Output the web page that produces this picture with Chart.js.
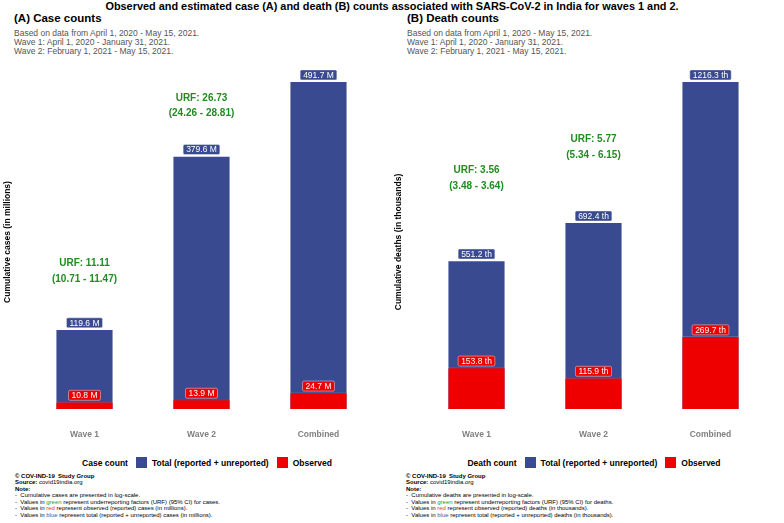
<!DOCTYPE html>
<html>
<head>
<meta charset="utf-8">
<script src="https://cdn.jsdelivr.net/npm/chart.js@4/dist/chart.umd.min.js"></script>
<style>
  body { margin: 0; width: 784px; height: 523px; background: #fff; font-family: "Liberation Sans", Arial, sans-serif; position: relative; overflow: hidden; }
  .abs { position: absolute; white-space: nowrap; }
  .title { left: 0; width: 784px; top: 0px; text-align: center; font-weight: bold; font-size: 10.9px; }
  .ptitle { font-weight: bold; font-size: 11.5px; top: 12px; }
  .sub { font-size: 8.5px; color: #555; line-height: 9.2px; top: 28.5px; }
  .ytitle { font-weight: bold; font-size: 8.5px; transform: rotate(-90deg); transform-origin: center; width: 200px; text-align: center; }
  .legend { top: 457px; width: 392px; display: flex; justify-content: center; align-items: center; font-weight: bold; font-size: 8.5px; }
  .legend .box { width: 11px; height: 11px; display: inline-block; margin: 0 5px 0 8px; }
  .note { font-size: 6px; line-height: 6.6px; top: 472.5px; }
  .note b { font-weight: bold; }
  canvas { position: absolute; top: 0; }
</style>
</head>
<body>
<div class="abs title">Observed and estimated case (A) and death (B) counts associated with SARS-CoV-2 in India for waves 1 and 2.</div>

<div class="abs ptitle" style="left:14px">(A) Case counts</div>
<div class="abs sub" style="left:14px">Based on data from April 1, 2020 - May 15, 2021.<br>Wave 1: April 1, 2020 - January 31, 2021.<br>Wave 2: February 1, 2021 - May 15, 2021.</div>
<div class="abs ptitle" style="left:407px">(B) Death counts</div>
<div class="abs sub" style="left:407px">Based on data from April 1, 2020 - May 15, 2021.<br>Wave 1: April 1, 2020 - January 31, 2021.<br>Wave 2: February 1, 2021 - May 15, 2021.</div>

<div style="position:absolute;left:0;top:0;width:392px;height:445px"><canvas id="casesChart"></canvas></div>
<div style="position:absolute;left:392px;top:0;width:392px;height:445px"><canvas id="deathsChart"></canvas></div>

<div class="abs ytitle" style="left:-93px;top:237px">Cumulative cases (in millions)</div>
<div class="abs ytitle" style="left:298px;top:237px">Cumulative deaths (in thousands)</div>

<div class="abs legend" style="left:11px">Case count<span class="box" style="background:#3a4a91"></span>Total (reported + unreported)<span class="box" style="background:#ee0000"></span>Observed</div>
<div class="abs legend" style="left:398px">Death count<span class="box" style="background:#3a4a91"></span>Total (reported + unreported)<span class="box" style="background:#ee0000"></span>Observed</div>

<div class="abs note" style="left:15px">
<b>© COV-IND-19&nbsp; Study Group</b><br>
<b>Source:</b> covid19india.org<br>
<b>Note:</b><br>
-&nbsp; Cumulative cases are presented in log-scale.<br>
-&nbsp; Values in <span style="color:#22a022">green</span> represent underreporting factors (URF) (95% CI) for cases.<br>
-&nbsp; Values in <span style="color:#ee3333">red</span> represent observed (reported) cases (in millions).<br>
-&nbsp; Values in <span style="color:#4455aa">blue</span> represent total (reported + unreported) cases (in millions).
</div>
<div class="abs note" style="left:406px">
<b>© COV-IND-19&nbsp; Study Group</b><br>
<b>Source:</b> covid19india.org<br>
<b>Note:</b><br>
-&nbsp; Cumulative deaths are presented in log-scale.<br>
-&nbsp; Values in <span style="color:#22a022">green</span> represent underreporting factors (URF) (95% CI) for deaths.<br>
-&nbsp; Values in <span style="color:#ee3333">red</span> represent observed (reported) deaths (in thousands).<br>
-&nbsp; Values in <span style="color:#4455aa">blue</span> represent total (reported + unreported) deaths (in thousands).
</div>

<script>
// data
const waves = ['Wave 1', 'Wave 2', 'Combined'];

const casesTotal = [119.6, 379.6, 491.7];     // millions
const casesObserved = [10.8, 13.9, 24.7];
const casesURF = ['URF: 11.11', 'URF: 26.73', null];
const casesURFci = ['(10.71 - 11.47)', '(24.26 - 28.81)', null];

const deathsTotal = [551.2, 692.4, 1216.3];   // thousands
const deathsObserved = [153.8, 115.9, 269.7];
const deathsURF = ['URF: 3.56', 'URF: 5.77', null];
const deathsURFci = ['(3.48 - 3.64)', '(5.34 - 6.15)', null];

const BLUE = '#3a4a91';
const RED = '#ee0000';
const GREEN = '#228b22';

function roundRect(ctx, x, y, w, h, r) {
    ctx.beginPath();
    ctx.moveTo(x + r, y);
    ctx.lineTo(x + w - r, y);
    ctx.quadraticCurveTo(x + w, y, x + w, y + r);
    ctx.lineTo(x + w, y + h - r);
    ctx.quadraticCurveTo(x + w, y + h, x + w - r, y + h);
    ctx.lineTo(x + r, y + h);
    ctx.quadraticCurveTo(x, y + h, x, y + h - r);
    ctx.lineTo(x, y + r);
    ctx.quadraticCurveTo(x, y, x + r, y);
    ctx.closePath();
}

// draws value boxes on bars and the green URF text
const labelPlugin = {
    id: 'barLabels',
    afterDatasetsDraw(chart, args, opts) {
        const ctx = chart.ctx;
        ctx.save();
        ctx.font = '8.5px "Liberation Sans", Arial, sans-serif';
        ctx.textAlign = 'center';
        ctx.textBaseline = 'middle';
        chart.data.datasets.forEach((ds, di) => {
            const meta = chart.getDatasetMeta(di);
            meta.data.forEach((bar, i) => {
                const txt = ds.data[i].toFixed(1) + ' ' + opts.unit;
                const w = ctx.measureText(txt).width + 6;
                const h = 10;
                const x = bar.x - w / 2;
                const y = bar.y - h - 1.5;
                roundRect(ctx, x, y, w, h, 1.5);
                ctx.fillStyle = ds.backgroundColor;
                ctx.fill();
                ctx.lineWidth = 0.6;
                ctx.strokeStyle = 'rgba(255,255,255,0.7)';
                ctx.stroke();
                ctx.fillStyle = '#fff';
                ctx.fillText(txt, bar.x, y + h / 2 + 0.5);
            });
        });
        // URF labels above the total bars
        const totalMeta = chart.getDatasetMeta(1);
        ctx.font = 'bold 10px "Liberation Sans", Arial, sans-serif';
        ctx.fillStyle = GREEN;
        opts.urf.forEach((t, i) => {
            if (!t) return;
            const bar = totalMeta.data[i];
            const y1 = bar.y - opts.lift[i];
            ctx.fillText(t, bar.x, y1);
            ctx.fillText(opts.ci[i], bar.x, y1 + opts.gap);
        });
        ctx.restore();
    }
};

function makeChart(id, observed, total, unit, urf, ci, lift) {
    const ctx = document.getElementById(id).getContext('2d');
    return new Chart(ctx, {
        type: 'bar',
        data: {
            labels: waves,
            datasets: [{
                label: 'Observed',
                data: observed,
                backgroundColor: RED,
                borderColor: 'rgba(255,255,255,0.3)',
                borderWidth: 0.6,
                grouped: false,
                order: 0,
                barPercentage: 0.49,
                categoryPercentage: 1
            }, {
                label: 'Total (reported + unreported)',
                data: total,
                backgroundColor: BLUE,
                borderColor: 'rgba(255,255,255,0.3)',
                borderWidth: 0.6,
                grouped: false,
                order: 1,
                barPercentage: 0.49,
                categoryPercentage: 1
            }]
        },
        options: {
            responsive: true,
            maintainAspectRatio: false,
            animation: false,
            layout: { padding: { left: 26, right: 15, top: 65, bottom: 0 } },
            plugins: {
                legend: { display: false },
                tooltip: { enabled: false },
                barLabels: { unit: unit, urf: urf, ci: ci, lift: lift, gap: 15.5 }
            },
            scales: {
                x: {
                    grid: { display: false },
                    border: { display: false },
                    ticks: {
                        color: '#7f7f7f',
                        font: { family: '"Liberation Sans", Arial, sans-serif', size: 8.5, weight: 'bold' },
                        padding: 13
                    },
                    afterFit(scale) { scale.height = 36; }
                },
                y: {
                    display: false,
                    min: 0,
                    max: Math.max(...total) * 1.05
                }
            }
        },
        plugins: [labelPlugin]
    });
}

makeChart('casesChart', casesObserved, casesTotal, 'M', casesURF, casesURFci, [66, 58]);
makeChart('deathsChart', deathsObserved, deathsTotal, 'th', deathsURF, deathsURFci, [90, 83]);
</script>
</body>
</html>
